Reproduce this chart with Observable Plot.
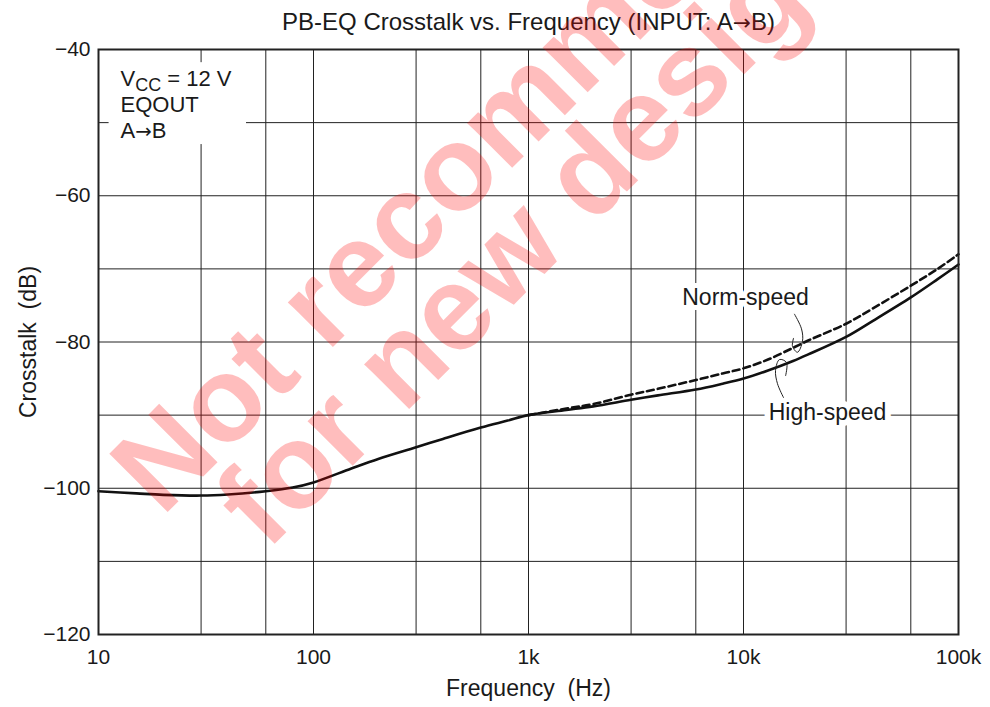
<!DOCTYPE html>
<html>
<head>
<meta charset="utf-8">
<script src="https://cdn.jsdelivr.net/npm/d3@7"></script>
<script src="https://cdn.jsdelivr.net/npm/@observablehq/plot@0.6"></script>
<style>
  html, body { margin: 0; padding: 0; background: white; }
  svg text { white-space: pre; }
</style>
</head>
<body>
<div id="chart"></div>
<script>
// ---- data ----
const freqHigh = [10, 15, 20, 30, 40, 60, 80, 100, 150, 200, 300, 400, 600, 800, 1000, 1500, 2000, 3000, 4000, 6000, 8000, 10000, 13000, 17000, 20000, 30000, 40000, 60000, 80000, 100000];
const highSpeed = [-100.4, -100.7, -100.9, -101.0, -100.85, -100.4, -99.9, -99.2, -97.3, -96.0, -94.4, -93.25, -91.7, -90.75, -90.0, -89.3, -88.8, -87.9, -87.3, -86.5, -85.7, -85.0, -83.9, -82.6, -81.7, -79.3, -77.1, -73.9, -71.4, -69.4];
const freqNorm = [1000, 1500, 2000, 3000, 4000, 6000, 8000, 10000, 13000, 17000, 20000, 30000, 40000, 60000, 80000, 100000];
const normSpeed = [-90.0, -89.1, -88.5, -87.2, -86.4, -85.2, -84.3, -83.6, -82.4, -80.8, -79.8, -77.5, -75.4, -72.3, -70.0, -68.0];

const xTicks = [10, 100, 1000, 10000, 100000];
const xTickLabels = ["10", "100", "1k", "10k", "100k"];
const yTicks = [-120, -100, -80, -60, -40];
const xGrid = [10, 30, 60, 100, 300, 600, 1000, 3000, 6000, 10000, 30000, 60000, 100000];
const yGrid = [-120, -110, -100, -90, -80, -70, -60, -50, -40];

const title = "PB-EQ Crosstalk vs. Frequency (INPUT: A\u2192B)";
const xLabel = "Frequency  (Hz)";
const yLabel = "Crosstalk  (dB)";
const conditionLines = ["VCC = 12 V", "EQOUT", "A\u2192B"];
const seriesNames = ["Norm-speed", "High-speed"];
const watermark = ["Not recommended", "for new designs"];

// leader lines (frequency, dB)
const normLeaderF = [17270, 18610, 18810, 17830, 16900, 17080];
const normLeaderV = [-76.2, -78.2, -79.9, -81.4, -80.6, -79.5];
const highLeaderF = [15350, 14390, 14090, 14700, 15850, 15700];
const highLeaderV = [-87.6, -85.7, -83.9, -82.4, -82.8, -84.6];

// ---- tables ----
const highData = freqHigh.map((f, i) => ({f, v: highSpeed[i]}));
const normData = freqNorm.map((f, i) => ({f, v: normSpeed[i]}));
const normLeader = normLeaderF.map((f, i) => ({f, v: normLeaderV[i]}));
const highLeader = highLeaderF.map((f, i) => ({f, v: highLeaderV[i]}));
const xFmt = new Map(xTicks.map((t, i) => [t, xTickLabels[i]]));

const font = "'Liberation Sans', Arial, Helvetica, sans-serif";
const ink = "#1a1a1a";

const chart = Plot.plot({
  width: 990,
  height: 707,
  marginLeft: 98,
  marginRight: 32,
  marginTop: 49,
  marginBottom: 73,
  style: {fontFamily: font, fontSize: "21px", color: ink, background: "white", overflow: "visible"},
  x: {type: "log", domain: [10, 100000], ticks: xTicks, tickFormat: d => xFmt.get(d), tickSize: 0, tickPadding: 15, label: null},
  y: {domain: [-120, -40], ticks: yTicks, tickSize: 0, tickPadding: 8, label: null, tickFormat: d => "\u2212" + Math.abs(d)},
  marks: [
    Plot.ruleX(xGrid, {stroke: "#222", strokeWidth: 1}),
    Plot.ruleY(yGrid, {stroke: "#222", strokeWidth: 1}),
    // condition box
    Plot.rect([0], {x1: 11.2, x2: 48.8, y1: -41.8, y2: -53.0, fill: "white"}),
    Plot.text([conditionLines[0]], {frameAnchor: "top-left", dx: 22, dy: 36, textAnchor: "start", lineAnchor: "bottom", fontSize: 22, fill: ink}),
    Plot.text([conditionLines[1]], {frameAnchor: "top-left", dx: 22, dy: 62, textAnchor: "start", lineAnchor: "bottom", fontSize: 22, fill: ink}),
    Plot.text([conditionLines[2]], {frameAnchor: "top-left", dx: 22, dy: 88, textAnchor: "start", lineAnchor: "bottom", fontSize: 22, fill: ink}),
    // series labels with white halo
    Plot.text([seriesNames[0]], {x: 10216, y: -73.98, fontSize: 23, fill: ink, stroke: "white", strokeWidth: 10}),
    Plot.text([seriesNames[1]], {x: 24590, y: -89.71, fontSize: 23, fill: ink, stroke: "white", strokeWidth: 12}),
    // curves
    Plot.line(highData, {x: "f", y: "v", curve: "catmull-rom", stroke: "#111", strokeWidth: 2.6}),
    Plot.line(normData, {x: "f", y: "v", curve: "catmull-rom", stroke: "#111", strokeWidth: 2.6, strokeDasharray: "7,4"}),
    Plot.line(normLeader, {x: "f", y: "v", curve: "catmull-rom", stroke: "#222", strokeWidth: 1}),
    Plot.line(highLeader, {x: "f", y: "v", curve: "catmull-rom", stroke: "#222", strokeWidth: 1}),
    Plot.frame({stroke: "#222", strokeWidth: 2}),
    // titles
    Plot.text([title], {frameAnchor: "top", dy: -27, lineAnchor: "middle", fontSize: 24, fill: ink}),
    Plot.text([xLabel], {frameAnchor: "bottom", dy: 54, lineAnchor: "middle", fontSize: 23, fill: ink}),
    Plot.text([yLabel], {frameAnchor: "left", dx: -70, rotate: -90, textAnchor: "middle", lineAnchor: "middle", fontSize: 23, fill: ink}),
    // watermark (centre of each line, in data coordinates)
    Plot.text([watermark[0]], {x: 798, y: -49.4, rotate: -45, fontSize: 120, fontWeight: "bold", fill: "#ff0000", fillOpacity: 0.26}),
    Plot.text([watermark[1]], {x: 1439, y: -60.8, rotate: -45, fontSize: 120, fontWeight: "bold", fill: "#ff0000", fillOpacity: 0.26})
  ]
});

const ns = "http://www.w3.org/2000/svg";
chart.querySelectorAll("text").forEach(t => {
  // subscript for V_CC
  if (t.textContent === conditionLines[0]) {
    t.textContent = "";
    const a = document.createElementNS(ns, "tspan"); a.textContent = "V";
    const b = document.createElementNS(ns, "tspan"); b.textContent = "CC"; b.setAttribute("dy", "5"); b.setAttribute("font-size", "18");
    const c = document.createElementNS(ns, "tspan"); c.textContent = " = 12 V"; c.setAttribute("dy", "-5");
    t.append(a, b, c);
  } else if (t.textContent.includes("\u2192") && t.childElementCount === 0) {
    // full-size arrow
    const parts = t.textContent.split("\u2192");
    t.textContent = "";
    parts.forEach((p, i) => {
      if (i > 0) {
        const ar = document.createElementNS(ns, "tspan");
        ar.textContent = "\u2192";
        ar.setAttribute("font-family", "'DejaVu Sans', sans-serif");
        ar.setAttribute("font-size", "0.9em");
        t.append(ar);
      }
      const s = document.createElementNS(ns, "tspan"); s.textContent = p; t.append(s);
    });
  }
});

document.getElementById("chart").append(chart);
</script>
</body>
</html>
